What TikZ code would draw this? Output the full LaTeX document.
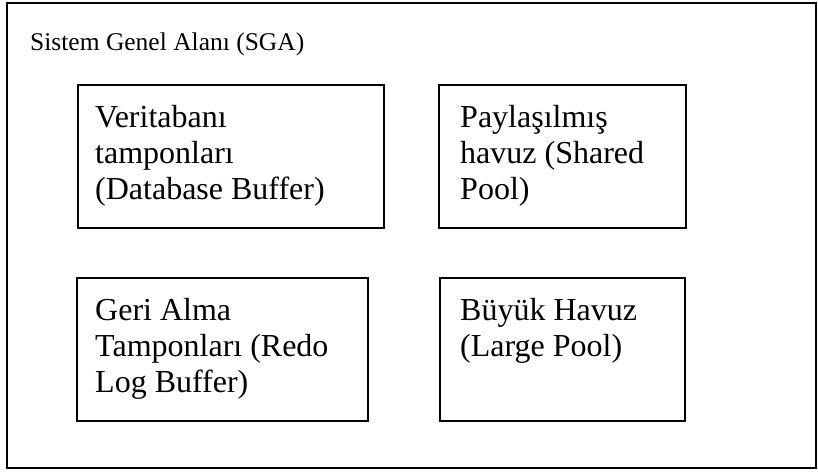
\documentclass[tikz,border=0pt]{standalone}
\usepackage{fontspec}
\setmainfont{Liberation Serif}
\begin{document}
\begin{tikzpicture}[x=1pt,y=-1pt,
  area/.style={draw=black,line width=2.8pt},
  membox/.style={draw=black,line width=2.2pt,rectangle,inner sep=0pt,anchor=north west,minimum height=143pt},
  title/.style={font=\fontsize{25.5}{30}\selectfont,inner sep=0pt,anchor=base west},
  boxtext/.style={font=\fontsize{32}{36}\selectfont,inner sep=0pt,align=left,anchor=base west},
]
\useasboundingbox (0,0) rectangle (818,474);
% outer frame: the system global area
\draw[area] (7,3) rectangle (816,468);
\node[title] (sga) at (30,50) {Sistem Genel Alanı (SGA)};

% memory structures
\node[membox,minimum width=306pt] (dbbuf) at (77,84) {};
\node[membox,minimum width=247pt] (shpool) at (438,84) {};
\node[membox,minimum width=291pt] (redo) at (76,277) {};
\node[membox,minimum width=245pt] (large) at (439,277) {};

% labels (anchored on the baseline of their last line)
\node[boxtext] (dbtxt) at ([xshift=18pt,yshift=-115pt]dbbuf.north west) {Veritabanı\\tamponları\\(Database Buffer)};
\node[boxtext] (shtxt) at ([xshift=22pt,yshift=-115pt]shpool.north west) {Paylaşılmış\\havuz (Shared\\Pool)};
\node[boxtext] (redotxt) at ([xshift=19pt,yshift=-115pt]redo.north west) {Geri Alma\\Tamponları (Redo\\Log Buffer)};
\node[boxtext] (largetxt) at ([xshift=21pt,yshift=-79pt]large.north west) {Büyük Havuz\\(Large Pool)};
\end{tikzpicture}
\end{document}
